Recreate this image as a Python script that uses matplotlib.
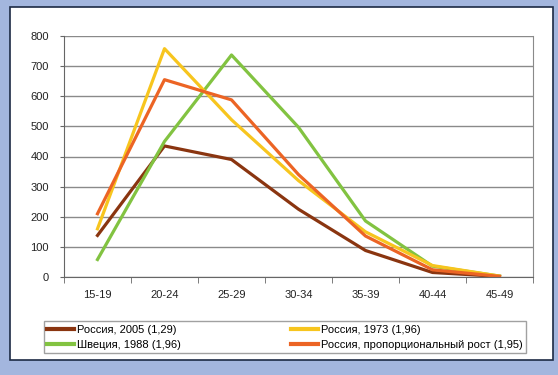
import matplotlib.pyplot as plt
from matplotlib.patches import Rectangle

plt.rcParams['font.family'] = ['Liberation Sans', 'DejaVu Sans']

ages = ["15-19", "20-24", "25-29", "30-34", "35-39", "40-44", "45-49"]
russia_2005 = [138, 435, 390, 225, 88, 15, 2]
russia_1973 = [160, 758, 522, 320, 150, 38, 3]
sweden_1988 = [58, 450, 737, 497, 186, 36, 3]
russia_prop = [210, 655, 588, 340, 136, 24, 2]

fig = plt.figure(figsize=(5.58, 3.75), dpi=100, facecolor="#a3b6de")

# white panel with dark border, drawn behind the axes
fig.patches.append(Rectangle((10 / 558, 1 - 360 / 375), 543 / 558, 353 / 375,
                             transform=fig.transFigure, facecolor="white",
                             edgecolor="#1c2a44", linewidth=1.2, zorder=-5))

ax = fig.add_axes([64 / 558, 1 - 277 / 375, 469 / 558, 241 / 375])
ax.set_facecolor("white")

x = range(len(ages))
l1, = ax.plot(x, russia_2005, color="#8a3510", lw=2.3, label="Россия, 2005 (1,29)")
l3, = ax.plot(x, sweden_1988, color="#82c341", lw=2.3, label="Швеция, 1988 (1,96)")
l2, = ax.plot(x, russia_1973, color="#f7c51e", lw=2.3, label="Россия, 1973 (1,96)")
l4, = ax.plot(x, russia_prop, color="#ec6424", lw=2.3,
              label="Россия, пропорциональный рост (1,95)")

ax.set_xlim(-0.5, len(ages) - 0.5)
ax.set_ylim(0, 800)
ax.set_yticks(range(0, 801, 100))
ax.yaxis.grid(True, color="#8a8a8a", lw=1)
ax.set_axisbelow(True)

ax.set_xticks(list(x))
ax.set_xticklabels(ages)
ax.set_xticks([i - 0.5 for i in range(len(ages) + 1)], minor=True)
ax.tick_params(axis="x", which="major", length=0, pad=9, labelsize=8, colors="#222222")
ax.tick_params(axis="x", which="minor", length=4, color="#666666")
ax.tick_params(axis="y", length=3, pad=8, color="#666666", labelsize=8, labelcolor="#222222")

ax.spines["top"].set_visible(False)
ax.spines["right"].set_color("#8a8a8a")
ax.spines["left"].set_color("#666666")
ax.spines["bottom"].set_color("#666666")

leg = fig.legend(handles=[l1, l3, l2, l4], ncol=2, mode="expand",
                 loc="lower left",
                 bbox_to_anchor=(44 / 558, 1 - 353 / 375, 482 / 558, 39 / 375),
                 fontsize=8, frameon=True, fancybox=False, handlelength=2.4,
                 handletextpad=0.3, borderaxespad=0, borderpad=0.3,
                 labelspacing=0.45)
leg.get_frame().set_edgecolor("#8a8a8a")
leg.get_frame().set_linewidth(1)
for h in leg.legend_handles:
    h.set_linewidth(3)

fig.savefig("out.png", dpi=100, facecolor=fig.get_facecolor())
